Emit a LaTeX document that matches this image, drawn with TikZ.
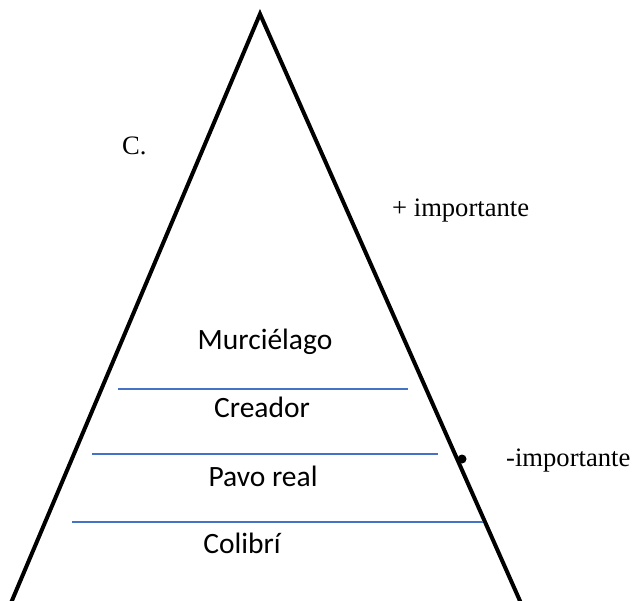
\documentclass[tikz,border=0pt]{standalone}
\usepackage{fontspec}
\setmainfont{Liberation Serif}
\newfontfamily\calibri{Carlito}
\usepackage{tikz}
\usetikzlibrary{positioning, calc}
\definecolor{lineblue}{HTML}{4472C4}

\begin{document}
\begin{tikzpicture}[x=1pt, y=-1pt,
            level/.style={anchor=base, inner sep=0pt, font=\calibri\fontsize{29.5}{31}\selectfont},
            side/.style={anchor=base west, inner sep=0pt, font=\fontsize{26.6}{28}\selectfont},
            sep/.style={lineblue, line width=1.5pt}]
            \useasboundingbox (0,0) rectangle (634,601);
            \clip (0,0) rectangle (634,601);
            \coordinate (top) at (260,14);
            \coordinate (left) at (8,610);
            \coordinate (right) at (524,610);
            \draw[line width=4pt, line join=miter] (left)--(top)--(right);
            \draw[sep] (118,389)--(408,389);
            \draw[sep] (92,454)--(438,454);
            \draw[sep] (72,522)--(483,522);
            \node[level] (murcielago) at (265,349) {Murciélago};
            \node[level] (creador) at (262,417) {Creador};
            \node[level] (pavo) at (263,486) {Pavo real};
            \node[level] (colibri) at (242,553) {Colibrí};
            \node[side] (c) at (122,155) {C.};
            \node[side] (mas) at (392,217) {+ importante};
            \node[side] (menos) at (506,466) {-importante};
            \fill (462,459) circle (4.5);
        \end{tikzpicture}
\end{document}
